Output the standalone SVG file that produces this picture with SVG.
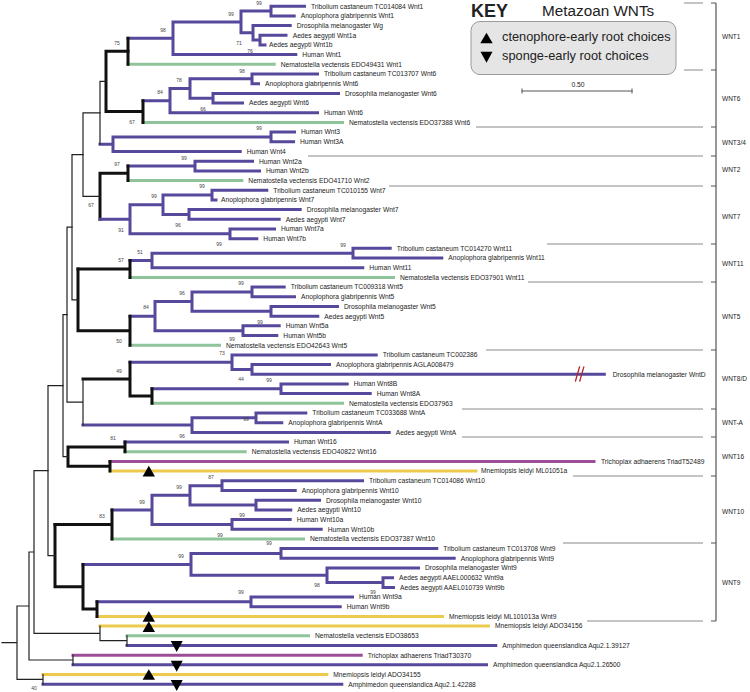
<svg xmlns="http://www.w3.org/2000/svg" width="750" height="692" viewBox="0 0 750 692">
<defs>
<style>
path{fill:none;stroke-linecap:square}
.p{stroke:#57489c;stroke-width:3}
.g{stroke:#8fc39a;stroke-width:3}
.y{stroke:#ecca4e;stroke-width:3}
.m{stroke:#9c4f98;stroke-width:3}
.k{stroke:#111;stroke-width:3}
.t{stroke:#222;stroke-width:1.2}
.sep{stroke:#8a8a8a;stroke-width:1;stroke-linecap:butt}
.br{stroke:#555;stroke-width:1.2;stroke-linecap:butt}
text{font-family:"Liberation Sans",Arial,sans-serif;fill:#222}
.l{font-size:6.7px}
.s{font-size:5px;fill:#444;text-anchor:middle}
.c{font-size:6.5px}
</style>
<polygon id="up" points="0,-5.3 6.2,5.3 -6.2,5.3" fill="#000"/>
<polygon id="dn" points="-6,-4.8 6,-4.8 0,6.3" fill="#000"/>
</defs>
<rect width="750" height="692" fill="#fff"/>

<g id="connectors">
<!-- WNT1 -->
<path class="p" d="M271 6.2V15.9M271 6.2H304.5M271 15.9H294.2M260 35.3V44.9M260 35.3H286M260 44.9H265M253 25.6V40.1M253 25.6H290.2M253 40.1H260M241 11.05V32.85M241 11.05H271M241 32.85H253M173 21.95V54.6M173 21.95H241M173 54.6H295.8M128 38.3H173"/>
<path class="g" d="M128 64.3H274.2"/>
<path class="k" d="M128 38.3V64.3"/>
<!-- WNT6 -->
<path class="p" d="M252 74V83.7M252 74H317.5M252 83.7H258.5M213 93.4V103.1M213 93.4H338.5M213 103.1H242.5M190 78.85V98.25M190 78.85H252M190 98.25H213M170 88.55V112.75M170 88.55H190M170 112.75H317.5M143 100.65H170"/>
<path class="g" d="M143 122.4H342.5"/>
<path class="k" d="M143 100.65V122.4M106 51.3H128M106 111.5H143M106 51.3V111.5"/>
<!-- WNT3/4 -->
<path class="p" d="M271 132.1V141.8M271 132.1H294.5M271 141.8H293.5M113 136.95V151.5M113 136.95H271M113 151.5H240.2M100 144.2H113"/>
<path class="t" d="M100 81.4V144.2M100 81.4H106"/>
<!-- WNT2 -->
<path class="p" d="M195 161.2V170.9M195 161.2H252.5M195 170.9H259.5M128 166.05H195"/>
<path class="g" d="M128 180.55H241.8"/>
<path class="k" d="M128 166.05V180.55M100 173.3H128M100 173.3V219.3"/>
<!-- WNT7 -->
<path class="p" d="M212 190.2V199.9M212 190.2H266.8M212 199.9H216M189 209.6V219.3M189 209.6H300.2M189 219.3H279.2M163 195.05V214.45M163 195.05H212M163 214.45H189M230 229V238.7M230 229H274.5M230 238.7H256.8M130 204.75V233.85M130 204.75H163M130 233.85H230M100 219.3H130"/>
<path class="t" d="M83 196.3H100M83 112.8H100M83 112.8V196.3"/>
<!-- WNT11 -->
<path class="p" d="M353 248.35V258M353 248.35H390.2M353 258H441.8M152 253.2V267.7M152 253.2H353M152 267.7H362.8M130 260.45H152"/>
<path class="g" d="M130 277.4H393.5"/>
<path class="k" d="M130 260.45V277.4M78 268.9H130"/>
<!-- WNT5 -->
<path class="p" d="M252 287.1V296.8M252 287.1H284.2M252 296.8H294.5M271 306.5V316.15M271 306.5H337.5M271 316.15H317.8M192 291.95V311.3M192 291.95H252M192 311.3H271M243 325.8V335.5M243 325.8H279.2M243 335.5H276.8M155 301.6V330.65M155 301.6H192M155 330.65H243M130 316.15H155"/>
<path class="g" d="M130 345.2H219.5"/>
<path class="k" d="M130 316.15V345.2M78 330.7H130M78 268.9V330.7"/>
<path class="t" d="M72 299.8H78M72 154.55H83M72 154.55V299.8"/>
<!-- WNT8/D -->
<path class="p" d="M252 364.6V374.3M252 364.6H329.5M252 374.3H604.3M232 354.9V369.45M232 354.9H376.2M232 369.45H252M130 362.2H232M281 384V393.6M281 384H347.2M281 393.6H370.2M152 388.8H281"/>
<path class="g" d="M152 403.3H342.5"/>
<path class="k" d="M152 388.8V403.3M130 396.05H152M130 362.2V396.05M83 379.1H130"/>
<path d="M575.5 381L579.5 367M579.8 381L583.8 367" stroke="#b3262c" stroke-width="1.3" stroke-linecap="butt"/>
<!-- WNT-A -->
<path class="p" d="M256 413V422.7M256 413H305.8M256 422.7H281.8M192 417.85V432.4M192 417.85H256M192 432.4H389.2M83 425.1H192"/>
<path class="t" d="M83 379.1V425.1M67 402.1H83M67 227.2H72M67 227.2V402.1"/>
<!-- WNT16 -->
<path class="p" d="M125 442.1H287.5"/>
<path class="g" d="M125 451.8H245.2"/>
<path class="m" d="M110 461.4H594"/>
<path class="y" d="M110 471.1H476"/>
<path class="k" d="M125 442.1V451.8M68 446.95H125M110 461.4V471.1M68 466.25H110M68 446.95V466.25"/>
<path class="t" d="M63 456.6H68M63 314.65H67M63 314.65V456.6"/>
<!-- WNT10 -->
<path class="p" d="M222 480.8V490.5M222 480.8H362.5M222 490.5H295.2M256 500.2V509.9M256 500.2H319.5M256 509.9H290.8M190 485.65V505.05M190 485.65H222M190 505.05H256M232 519.6V529.2M232 519.6H290.2M232 529.2H321.2M152 495.35V524.4M152 495.35H190M152 524.4H232M112 509.9H152"/>
<path class="g" d="M112 538.9H303.5"/>
<path class="k" d="M112 509.9V538.9M55 524.4H112"/>
<!-- WNT9 -->
<path class="p" d="M281 548.6V558.3M281 548.6H436.8M281 558.3H454.2M383 577.7V587.4M383 577.7H392.5M383 587.4H393.5M327 568V582.55M327 568H418.5M327 582.55H383M191 553.45V575.3M191 553.45H281M191 575.3H327M83 564.4H191M251 597V606.7M251 597H352.5M251 606.7H340.2M97 601.85H251"/>
<path class="y" d="M97 616.4H442.5"/>
<path class="k" d="M97 601.85V616.4M83 609.1H97M83 564.4V609.1M55 586.75H83M55 524.4V586.75"/>
<path class="t" d="M48 555.6H55M48 385.6H63M48 385.6V555.6"/>
<!-- base -->
<path class="y" d="M100 626.1H488.5M43 674.5H326.8"/>
<path class="g" d="M127 635.8H308.5"/>
<path class="p" d="M127 645.5H495.8M73 664.85H486.5M43 684.2H341.8"/>
<path class="m" d="M73 655.2H361.2"/>
<path class="t" d="M127 635.8V645.5M100 640.65H127M100 626.1V640.65M34 633.4H100M34 470.6H48M34 470.6V633.4M73 655.2V664.85M29 660H73M29 552H34M29 552V660M43 674.5V684.2M17 679.35H43M17 606H29M17 606V679.35M2 642.7H17"/>
</g>

<g id="root-markers">
<use href="#up" x="148.8" y="471.1"/>
<use href="#up" x="148.8" y="616.4"/>
<use href="#up" x="148.8" y="626.6"/>
<use href="#dn" x="176.7" y="645.8"/>
<use href="#dn" x="176.7" y="665.5"/>
<use href="#up" x="148.8" y="674.5"/>
<use href="#dn" x="176.7" y="684.8"/>
</g>

<g id="support">
<text class="s" x="259" y="5">99</text>
<text class="s" x="231" y="15.8">99</text>
<text class="s" x="163" y="31.8">98</text>
<text class="s" x="117" y="44.8">75</text>
<text class="s" x="239" y="44.8">71</text>
<text class="s" x="250" y="52.8">76</text>
<text class="s" x="242" y="72.8">98</text>
<text class="s" x="179" y="81.8">78</text>
<text class="s" x="160" y="93.8">84</text>
<text class="s" x="203" y="110.8">66</text>
<text class="s" x="132" y="123.8">67</text>
<text class="s" x="259" y="129.8">99</text>
<text class="s" x="184" y="159.8">99</text>
<text class="s" x="117" y="165.8">97</text>
<text class="s" x="202" y="187.8">99</text>
<text class="s" x="154" y="197.8">99</text>
<text class="s" x="91" y="206.8">67</text>
<text class="s" x="178" y="226.8">96</text>
<text class="s" x="121" y="231.8">91</text>
<text class="s" x="219" y="245.8">99</text>
<text class="s" x="343" y="246.8">99</text>
<text class="s" x="140" y="253.8">51</text>
<text class="s" x="121" y="261.8">57</text>
<text class="s" x="241" y="284.8">99</text>
<text class="s" x="182" y="294.8">96</text>
<text class="s" x="146" y="308.8">84</text>
<text class="s" x="260" y="323.8">99</text>
<text class="s" x="119" y="342.8">50</text>
<text class="s" x="232" y="340.6">99</text>
<text class="s" x="222" y="354.8">73</text>
<text class="s" x="119" y="372.8">49</text>
<text class="s" x="241" y="380.8">44</text>
<text class="s" x="269" y="381.8">99</text>
<text class="s" x="246" y="420.8">99</text>
<text class="s" x="182" y="437.8">96</text>
<text class="s" x="113" y="439.8">81</text>
<text class="s" x="211" y="478.8">87</text>
<text class="s" x="179" y="488.8">99</text>
<text class="s" x="142" y="503.8">99</text>
<text class="s" x="102" y="517.8">83</text>
<text class="s" x="242" y="516.8">99</text>
<text class="s" x="220" y="536.8">99</text>
<text class="s" x="269" y="544.8">99</text>
<text class="s" x="181" y="557.8">99</text>
<text class="s" x="317" y="586.8">98</text>
<text class="s" x="241" y="593.8">99</text>
<text class="s" x="373" y="593.8">99</text>
<text class="s" x="34" y="689.8">40</text>
</g>

<g id="leaves">
<g id="n1"><text class="l" x="311" y="8.5">Tribolium castaneum TC014084 Wnt1</text></g>
<g id="n2"><text class="l" x="300.7" y="18.2">Anoplophora glabripennis Wnt1</text></g>
<g id="n3"><text class="l" x="296.7" y="27.9">Drosophila melanogaster Wg</text></g>
<g id="n4"><text class="l" x="292.7" y="37.6">Aedes aegypti Wnt1a</text></g>
<g id="n5"><text class="l" x="269" y="47.2">Aedes aegypti Wnt1b</text></g>
<g id="n6"><text class="l" x="302.3" y="56.9">Human Wnt1</text></g>
<g id="n7"><text class="l" x="280.7" y="66.6">Nematostella vectensis EDO49431 Wnt1</text></g>
<g id="n8"><text class="l" x="324" y="76.3">Tribolium castaneum TC013707 Wnt6</text></g>
<g id="n9"><text class="l" x="265" y="86">Anoplophora glabripennis Wnt6</text></g>
<g id="n10"><text class="l" x="345" y="95.7">Drosophila melanogaster Wnt6</text></g>
<g id="n11"><text class="l" x="249" y="105.4">Aedes aegypti Wnt6</text></g>
<g id="n12"><text class="l" x="324" y="115.1">Human Wnt6</text></g>
<g id="n13"><text class="l" x="349" y="124.7">Nematostella vectensis EDO37388 Wnt6</text></g>
<g id="n14"><text class="l" x="301" y="134.4">Human Wnt3</text></g>
<g id="n15"><text class="l" x="300" y="144.1">Human Wnt3A</text></g>
<g id="n16"><text class="l" x="246.7" y="153.8">Human Wnt4</text></g>
<g id="n17"><text class="l" x="259" y="163.5">Human Wnt2a</text></g>
<g id="n18"><text class="l" x="266" y="173.2">Human Wnt2b</text></g>
<g id="n19"><text class="l" x="248.3" y="182.9">Nematostella vectensis EDO41710 Wnt2</text></g>
<g id="n20"><text class="l" x="273.3" y="192.5">Tribolium castaneum TC010155 Wnt7</text></g>
<g id="n21"><text class="l" x="221" y="202.2">Anoplophora glabripennis Wnt7</text></g>
<g id="n22"><text class="l" x="306.7" y="211.9">Drosophila melanogaster Wnt7</text></g>
<g id="n23"><text class="l" x="285.7" y="221.6">Aedes aegypti Wnt7</text></g>
<g id="n24"><text class="l" x="281" y="231.3">Human Wnt7a</text></g>
<g id="n25"><text class="l" x="263.3" y="241">Human Wnt7b</text></g>
<g id="n26"><text class="l" x="396.7" y="250.7">Tribolium castaneum TC014270 Wnt11</text></g>
<g id="n27"><text class="l" x="448.3" y="260.3">Anoplophora glabripennis Wnt11</text></g>
<g id="n28"><text class="l" x="369.3" y="270">Human Wnt11</text></g>
<g id="n29"><text class="l" x="400" y="279.7">Nematostella vectensis EDO37901 Wnt11</text></g>
<g id="n30"><text class="l" x="290.7" y="289.4">Tribolium castaneum TC009318 Wnt5</text></g>
<g id="n31"><text class="l" x="301" y="299.1">Anoplophora glabripennis Wnt5</text></g>
<g id="n32"><text class="l" x="344" y="308.8">Drosophila melanogaster Wnt5</text></g>
<g id="n33"><text class="l" x="324.3" y="318.5">Aedes aegypti Wnt5</text></g>
<g id="n34"><text class="l" x="285.7" y="328.1">Human Wnt5a</text></g>
<g id="n35"><text class="l" x="283.3" y="337.8">Human Wnt5b</text></g>
<g id="n36"><text class="l" x="226" y="347.7">Nematostella vectensis EDO42643 Wnt5</text></g>
<g id="n37"><text class="l" x="382.7" y="357.2">Tribolium castaneum TC002386</text></g>
<g id="n38"><text class="l" x="336" y="366.9">Anoplophora glabripennis AGLA008479</text></g>
<g id="n39"><text class="l" x="612.7" y="376.6">Drosophila melanogaster WntD</text></g>
<g id="n40"><text class="l" x="353.7" y="386.3">Human Wnt8B</text></g>
<g id="n41"><text class="l" x="376.7" y="395.9">Human Wnt8A</text></g>
<g id="n42"><text class="l" x="349" y="405.6">Nematostella vectensis EDO37963</text></g>
<g id="n43"><text class="l" x="312.3" y="415.3">Tribolium castaneum TC033688 WntA</text></g>
<g id="n44"><text class="l" x="288.3" y="425">Anoplophora glabripennis WntA</text></g>
<g id="n45"><text class="l" x="395.7" y="434.7">Aedes aegypti WntA</text></g>
<g id="n46"><text class="l" x="294" y="444.4">Human Wnt16</text></g>
<g id="n47"><text class="l" x="251.7" y="454.1">Nematostella vectensis EDO40822 Wnt16</text></g>
<g id="n48"><text class="l" x="601" y="463.7">Trichoplax adhaerens TriadT52489</text></g>
<g id="n49"><text class="l" x="481" y="473.4">Mnemiopsis leidyi ML01051a</text></g>
<g id="n50"><text class="l" x="369" y="483.1">Tribolium castaneum TC014086 Wnt10</text></g>
<g id="n51"><text class="l" x="301.7" y="492.8">Anoplophora glabripennis Wnt10</text></g>
<g id="n52"><text class="l" x="326" y="502.5">Drosophila melanogaster Wnt10</text></g>
<g id="n53"><text class="l" x="297.3" y="512.2">Aedes aegypti Wnt10</text></g>
<g id="n54"><text class="l" x="296.7" y="521.9">Human Wnt10a</text></g>
<g id="n55"><text class="l" x="327.7" y="531.5">Human Wnt10b</text></g>
<g id="n56"><text class="l" x="310" y="541.2">Nematostella vectensis EDO37387 Wnt10</text></g>
<g id="n57"><text class="l" x="443.3" y="550.9">Tribolium castaneum TC013708 Wnt9</text></g>
<g id="n58"><text class="l" x="460.7" y="560.6">Anoplophora glabripennis Wnt9</text></g>
<g id="n59"><text class="l" x="425" y="570.3">Drosophila melanogaster Wnt9</text></g>
<g id="n60"><text class="l" x="399" y="580">Aedes aegypti AAEL000632 Wnt9a</text></g>
<g id="n61"><text class="l" x="400" y="589.7">Aedes aegypti AAEL010739 Wnt9b</text></g>
<g id="n62"><text class="l" x="359" y="599.3">Human Wnt9a</text></g>
<g id="n63"><text class="l" x="346.7" y="609">Human Wnt9b</text></g>
<g id="n64"><text class="l" x="449" y="618.7">Mnemiopsis leidyi ML101013a Wnt9</text></g>
<g id="n65"><text class="l" x="495" y="628.4">Mnemiopsis leidyi ADO34156</text></g>
<g id="n66"><text class="l" x="315" y="638.1">Nematostella vectensis EDO38653</text></g>
<g id="n67"><text class="l" x="502.3" y="647.8">Amphimedon queenslandica Aqu2.1.39127</text></g>
<g id="n68"><text class="l" x="367.7" y="657.5">Trichoplax adhaerens TriadT30370</text></g>
<g id="n69"><text class="l" x="493" y="667.1">Amphimedon queenslandica Aqu2.1.26500</text></g>
<g id="n70"><text class="l" x="333.3" y="676.8">Mnemiopsis leidyi ADO34155</text></g>
<g id="n71"><text class="l" x="348.3" y="686.5">Amphimedon queenslandica Aqu2.1.42288</text></g>
</g>

<g id="clades">
<path class="sep" d="M684 3H703M684 70H703M476 127H703M308 156H703M389 186H703M547 244H703M528 282H703M486 350H703M462 409H703M462 437H703M573 476H703M563 543H703M587 621H703"/>
<path class="br" d="M716 3V621M711 3H716M711 70H716M711 127H716M711 156H716M711 186H716M711 244H716M711 282H716M711 350H716M711 409H716M711 437H716M711 476H716M711 543H716M711 621H716"/>
<text class="c" x="722" y="39">WNT1</text>
<text class="c" x="722" y="101">WNT6</text>
<text class="c" x="722" y="145">WNT3/4</text>
<text class="c" x="722" y="172">WNT2</text>
<text class="c" x="722" y="219">WNT7</text>
<text class="c" x="722" y="266">WNT11</text>
<text class="c" x="722" y="319">WNT5</text>
<text class="c" x="722" y="381">WNT8/D</text>
<text class="c" x="722" y="425">WNT-A</text>
<text class="c" x="722" y="459">WNT16</text>
<text class="c" x="722" y="514">WNT10</text>
<text class="c" x="722" y="585">WNT9</text>
</g>

<g id="key">
<text x="471" y="16.5" font-size="18" font-weight="bold" fill="#111">KEY</text>
<text x="542" y="16" font-size="15.3" fill="#111">Metazoan WNTs</text>
<rect x="471" y="21.5" width="205" height="53" rx="9" fill="#e5e5e5" stroke="#9a9a9a" stroke-width="1"/>
<use href="#up" x="486.5" y="38"/>
<text x="502" y="41" font-size="12.8" fill="#111">ctenophore-early root choices</text>
<use href="#dn" x="486.5" y="56.5"/>
<text x="502" y="60" font-size="12.8" fill="#111">sponge-early root choices</text>
</g>

<g id="scale">
<path d="M522 91H632M522 89V93M632 89V93" stroke="#555" stroke-width="1" fill="none"/>
<text x="578" y="86.5" font-size="6.8" text-anchor="middle" fill="#333">0.50</text>
</g>
</svg>
